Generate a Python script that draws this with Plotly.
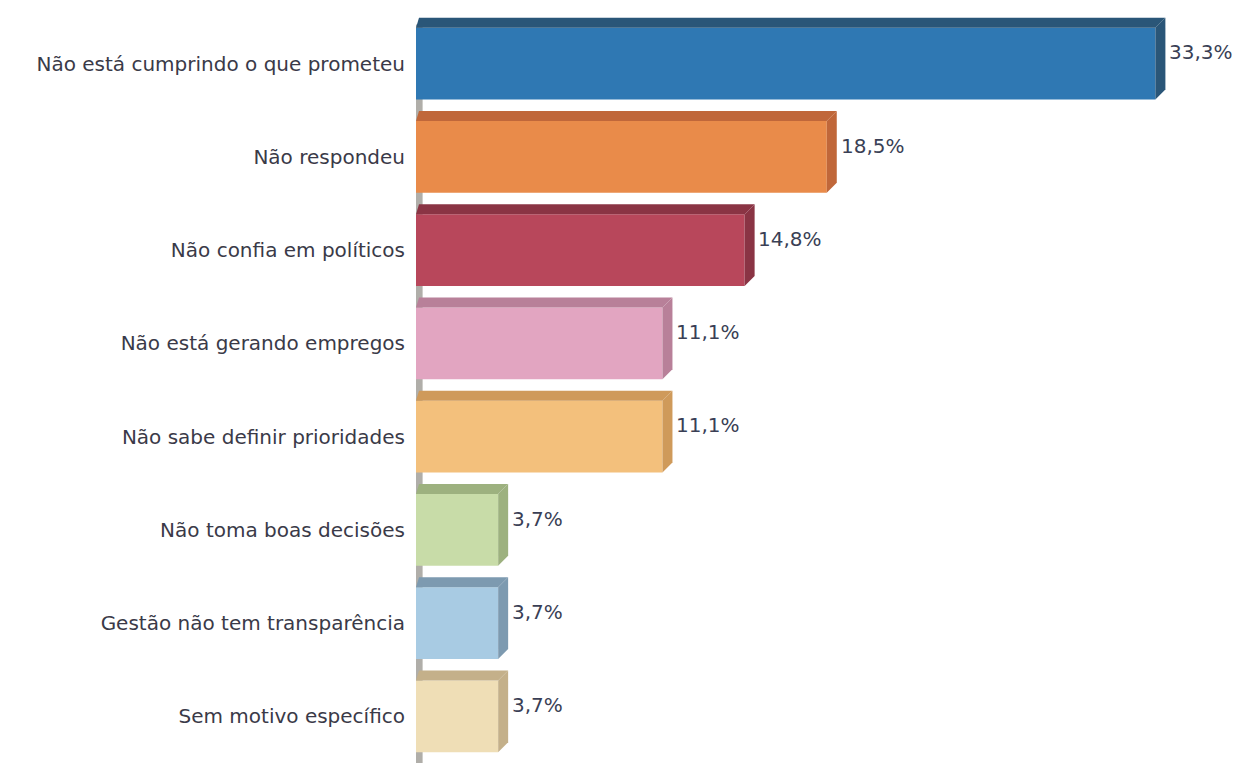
import plotly.graph_objects as go

categories = [
    "Não está cumprindo o que prometeu",
    "Não respondeu",
    "Não confia em políticos",
    "Não está gerando empregos",
    "Não sabe definir prioridades",
    "Não toma boas decisões",
    "Gestão não tem transparência",
    "Sem motivo específico",
]
values = [33.3, 18.5, 14.8, 11.1, 11.1, 3.7, 3.7, 3.7]
labels = ["33,3%", "18,5%", "14,8%", "11,1%", "11,1%", "3,7%", "3,7%", "3,7%"]
front_colors = ["#2f78b3", "#e98b4a", "#b8475b", "#e2a5c1", "#f3c07c",
                "#c8dca8", "#a8cbe3", "#efdeb6"]
side_colors = ["#2a5678", "#c0673a", "#8a3444", "#b88099", "#cf9a5a",
               "#9db17f", "#7d9ab0", "#c4b08a"]

pos = list(range(len(categories)))
W = 0.77
DX = 0.45
DY = 0.107

fig = go.Figure()
fig.add_trace(go.Bar(
    y=pos, x=values, orientation="h", width=W,
    marker=dict(color=front_colors, line=dict(width=0)),
    hoverinfo="skip",
))

shapes = []
# grey axis wall edge
shapes.append(dict(type="line", xref="x", yref="paper", x0=0.14, x1=0.14, y0=0, y1=0.99,
                   line=dict(color="#b0aea9", width=7), layer="below"))
for i, v in enumerate(values):
    top = i - W / 2
    bot = i + W / 2
    shapes.append(dict(
        type="path", xref="x", yref="y",
        path=f"M 0,{top} L {v},{top} L {v+DX},{top-DY} L {DX*0.3},{top-DY} Z",
        fillcolor=side_colors[i], line=dict(width=0), layer="above"))
    shapes.append(dict(
        type="path", xref="x", yref="y",
        path=f"M {v},{top} L {v+DX},{top-DY} L {v+DX},{bot-DY} L {v},{bot} Z",
        fillcolor=side_colors[i], line=dict(width=0), layer="above"))

annotations = []
for i, (v, t) in enumerate(zip(values, labels)):
    annotations.append(dict(
        x=v + DX + 0.08, y=i - 0.12, xref="x", yref="y", text=t, showarrow=False,
        xanchor="left", yanchor="middle",
        font=dict(family="DejaVu Sans, sans-serif", size=20, color="#3a3f55")))

fig.update_layout(
    width=1234, height=755,
    margin=dict(l=408, r=0, t=9, b=0, autoexpand=False),
    paper_bgcolor="white", plot_bgcolor="white",
    showlegend=False,
    shapes=shapes, annotations=annotations,
    xaxis=dict(range=[0, 37.2], visible=False, showgrid=False, zeroline=False),
    yaxis=dict(range=[7.5, -0.5], tickmode="array", tickvals=pos, ticktext=categories,
               showgrid=False, zeroline=False, showline=False, ticks="",
               automargin=False, ticklabelstandoff=10,
               tickfont=dict(family="DejaVu Sans, sans-serif", size=20, color="#3a3a48")),
)

fig.write_html("out.html")
